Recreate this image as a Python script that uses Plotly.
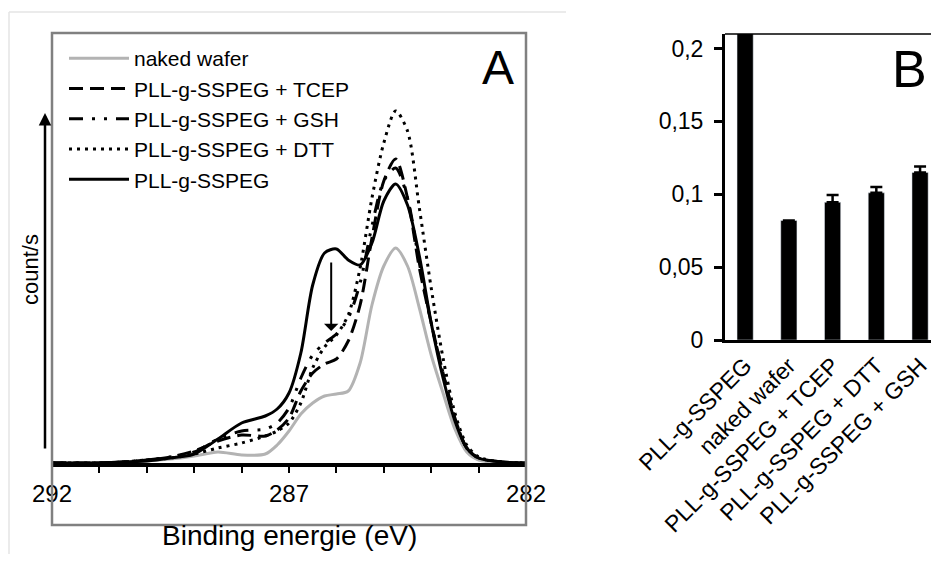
import plotly.graph_objects as go

# XPS C1s spectra (panel A), binding energy in eV, intensity in arbitrary units
energy = [292, 291, 290.5, 290, 289.5, 289, 288.5, 288, 287.5, 287.25, 287, 286.75, 286.5,
          286.25, 286, 285.75, 285.5, 285.25, 285, 284.75, 284.5, 284.25, 284, 283.75,
          283.5, 283.25, 283, 282.5, 282]
naked_wafer = [0, 0, 1, 2, 4, 7, 11, 8, 9, 18, 32, 49, 60, 67, 69, 72, 100, 158, 197, 215,
               197, 155, 108, 70, 34, 11, 3, 0, 0]
tcep = [0, 0, 1, 3, 6, 12, 22, 28, 27, 33, 45, 72, 90, 99, 104, 122, 158, 225, 282, 304,
        265, 195, 140, 90, 45, 15, 5, 1, 0]
gsh = [0, 0, 1, 3, 6, 11, 24, 32, 34, 40, 55, 85, 108, 120, 129, 145, 180, 237, 282, 295,
       265, 200, 140, 90, 45, 15, 5, 1, 0]
dtt = [0, 0, 1, 3, 5, 9, 15, 20, 27, 32, 40, 60, 95, 116, 128, 148, 195, 265, 320, 352,
       332, 255, 175, 105, 50, 18, 6, 1, 0]
pll = [0, 0, 1, 2, 5, 9, 24, 40, 47, 54, 70, 110, 178, 210, 214, 203, 198, 220, 262, 279,
       258, 207, 140, 85, 42, 15, 5, 1, 0]

# panel B bars
bar_labels = ["PLL-g-SSPEG", "naked wafer", "PLL-g-SSPEG + TCEP",
              "PLL-g-SSPEG + DTT", "PLL-g-SSPEG + GSH"]
bar_values = [0.23, 0.082, 0.0945, 0.101, 0.115]
bar_errors = [0, 0, 0.005, 0.004, 0.004]

OFF = 8  # page body margin in the browser
W, H = 939 - 2 * OFF, 562 - 2 * OFF
FONT = "Liberation Sans, Arial, sans-serif"


def px(x):
    # screen pixel -> paper fraction
    return (x - OFF) / W


def py(y):
    return 1 - (y - OFF) / H


fig = go.Figure()

# spectra, in legend order
series = [
    ("naked wafer", naked_wafer, "#b3b3b3", "solid"),
    ("PLL-g-SSPEG + TCEP", tcep, "black", "14px,7px"),
    ("PLL-g-SSPEG + GSH", gsh, "black", "14px,9px,3px,9px,3px,9px"),
    ("PLL-g-SSPEG + DTT", dtt, "black", "3px,5px"),
    ("PLL-g-SSPEG", pll, "black", "solid"),
]
for name, vals, color, dash in series:
    fig.add_trace(go.Scatter(
        x=energy, y=vals, name=name, mode="lines", legendgroup=name,
        line=dict(color=color, width=3, dash=dash, shape="spline", smoothing=0.8),
        xaxis="x", yaxis="y",
    ))

fig.add_trace(go.Bar(
    x=bar_labels, y=bar_values, width=0.37, marker_color="black",
    error_y=dict(type="data", array=bar_errors, arrayminus=[0] * 5, symmetric=False,
                 color="black", thickness=2.5, width=6),
    showlegend=False, xaxis="x2", yaxis="y2",
))

fig.update_layout(
    width=W, height=H, autosize=False,
    margin=dict(l=0, r=0, t=0, b=0, pad=0),
    paper_bgcolor="white", plot_bgcolor="rgba(0,0,0,0)",
    font=dict(family=FONT, color="black"),
    separators=",.",
    showlegend=True,
    legend=dict(x=px(64), y=py(38), xanchor="left", yanchor="top",
                bgcolor="rgba(0,0,0,0)", font=dict(size=21, family=FONT),
                tracegroupgap=0, itemwidth=60),
    xaxis=dict(domain=[px(52), px(526)], range=[292, 282], anchor="y", automargin=False,
               tickvals=list(range(282, 293)),
               ticktext=["282", "", "", "", "", "287", "", "", "", "", "292"],
               ticks="outside", ticklen=6, tickwidth=2, tickcolor="black",
               showline=True, linewidth=4, linecolor="black",
               showgrid=False, zeroline=False, tickfont=dict(size=24)),
    yaxis=dict(domain=[py(463), py(33)], range=[0, 430], anchor="x", visible=False,
               automargin=False),
    xaxis2=dict(domain=[px(725), 1], range=[-0.46, 4.25], anchor="y2",
                type="category", automargin=False, tickangle=-45, ticks="",
                showline=True, linewidth=3, linecolor="black", showgrid=False,
                tickfont=dict(size=23)),
    yaxis2=dict(domain=[py(340), py(34)], range=[0, 0.21], anchor="x2", dtick=0.05,
                automargin=False, ticks="outside", ticklen=8, tickwidth=3,
                tickcolor="black", showline=True, linewidth=3, linecolor="black",
                showgrid=False, zeroline=False, tickfont=dict(size=23),
                ticklabelstandoff=6),
)

fig.update_layout(shapes=[
    # faint outer frame of panel A
    dict(type="line", xref="paper", yref="paper", x0=px(9), x1=px(566), y0=py(12), y1=py(12),
         line=dict(color="#e4e4e4", width=1.5)),
    dict(type="line", xref="paper", yref="paper", x0=px(9), x1=px(9), y0=py(12), y1=0,
         line=dict(color="#e4e4e4", width=1.5)),
    # grey box of panel A
    dict(type="rect", xref="paper", yref="paper", x0=px(52), x1=px(526), y0=py(525), y1=py(33),
         line=dict(color="#808080", width=2.5)),
    # top border of panel B
    dict(type="line", xref="paper", yref="paper", x0=px(725), x1=1, y0=py(34),
         y1=py(34), line=dict(color="black", width=1.5)),
])

label = dict(xref="paper", yref="paper", showarrow=False, xanchor="center", yanchor="middle")
fig.update_layout(annotations=[
    dict(label, text="A", x=px(498), y=py(67), font=dict(size=48)),
    dict(label, text="B", x=px(909), y=py(69), font=dict(size=52)),
    dict(label, text="count/s", x=px(30), y=py(270), textangle=-90, font=dict(size=22)),
    dict(label, text="Binding energie (eV)", x=px(289), y=py(535), font=dict(size=28)),
    # intensity arrow beside panel A
    dict(text="", x=px(45), y=py(113), xref="paper", yref="paper", showarrow=True,
         ax=0, ay=337, arrowhead=2, arrowsize=1, arrowwidth=2.5, arrowcolor="black"),
    # decrease arrow at 286 eV
    dict(text="", x=286.11, y=132, xref="x", yref="y", showarrow=True,
         ax=0, ay=-70, arrowhead=1, arrowsize=1.2, arrowwidth=2, arrowcolor="black"),
])

fig.write_html("out.html")
